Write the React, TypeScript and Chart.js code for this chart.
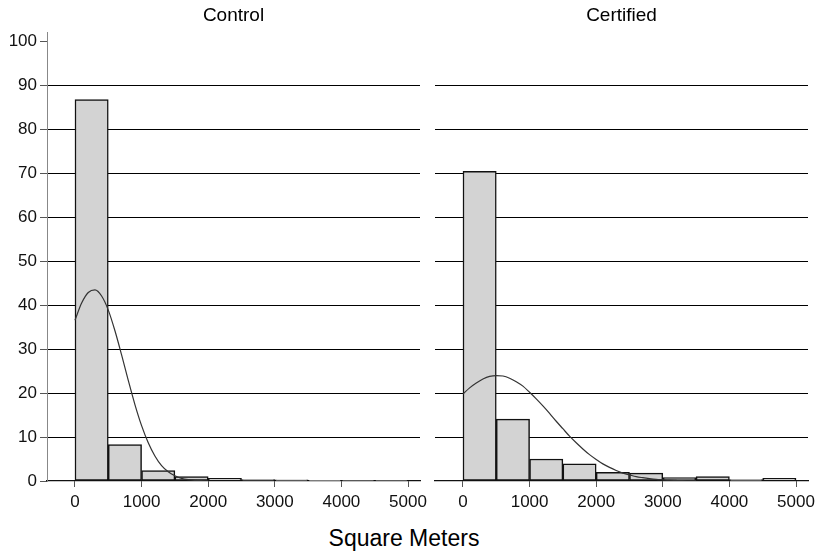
import React, { useEffect, useRef } from "react";
import { Chart, registerables } from "chart.js";

Chart.register(...registerables);

// ---- data ----
const panelTitles = ["Control", "Certified"];
const axisTitle = "Square Meters";

// histogram bins (midpoints, square meters) and percent of observations
const binMids = [250, 750, 1250, 1750, 2250, 2750, 3250, 3750, 4250, 4750];
const controlPct = [86.8, 8.3, 2.4, 1.0, 0.6, 0.35, 0.25, 0.15, 0.1, 0.1];
const certifiedPct = [70.5, 14.1, 5.0, 3.9, 2.0, 1.8, 0.8, 1.0, 0.3, 0.6];

// fitted density curves (percent scale)
const curveX = [
  0, 100, 200, 300, 400, 500, 600, 700, 800, 900, 1000, 1100, 1200, 1300, 1400,
  1500, 1600, 1700, 1800, 1900, 2000, 2100, 2200, 2300, 2400, 2500, 2600, 2700,
  2800, 2900, 3000, 3100, 3200, 3300, 3400, 3500,
];
const controlCurve = [
  36.6, 40.5, 42.9, 43.5, 42.1, 38.9, 34.2, 28.7, 22.9, 17.4, 12.6, 8.7, 5.7,
  3.5, 2.1, 1.2, 0.6, 0.3, 0.15, 0.07, 0.03,
];
const certifiedCurve = [
  19.8, 21.2, 22.3, 23.2, 23.8, 24.0, 23.9, 23.4, 22.6, 21.6, 20.2, 18.7, 17.1,
  15.4, 13.6, 11.9, 10.2, 8.7, 7.3, 6.0, 4.9, 3.9, 3.1, 2.4, 1.8, 1.4, 1.0,
  0.75, 0.54, 0.37, 0.27, 0.18, 0.12, 0.07, 0.05, 0.03,
];

const xTicks = [0, 1000, 2000, 3000, 4000, 5000];
const yTicks = [0, 10, 20, 30, 40, 50, 60, 70, 80, 90, 100];
const xRange = [-420, 5180];
const yRange = [0, 102.2];

const FONT = "'Liberation Sans', Arial, Helvetica, sans-serif";

function makeConfig(
  title: string,
  pct: number[],
  curve: number[],
  first: boolean
): any {
  return {
    type: "bar",
    data: {
      datasets: [
        {
          type: "line",
          order: 0,
          data: curve.map((y, i) => ({ x: curveX[i], y })),
          borderColor: "#333333",
          borderWidth: 1.2,
          pointRadius: 0,
          fill: false,
          cubicInterpolationMode: "monotone",
        },
        {
          type: "bar",
          order: 1,
          data: pct.map((y, i) => ({ x: binMids[i], y })),
          backgroundColor: "#d3d3d3",
          borderColor: "#111111",
          borderWidth: 1.5,
          borderSkipped: false,
          barPercentage: 1,
          categoryPercentage: 1,
        },
      ],
    },
    options: {
      responsive: true,
      maintainAspectRatio: false,
      animation: false,
      events: [],
      layout: {
        padding: first
          ? { left: 0, right: 20, top: 0, bottom: 0 }
          : { left: 10, right: 22, top: 0, bottom: 0 },
      },
      plugins: {
        legend: { display: false },
        tooltip: { enabled: false },
        title: {
          display: true,
          text: title,
          fullSize: false,
          color: "#000",
          font: { family: FONT, size: 19, weight: "normal" },
          padding: { top: 4.2, bottom: 5 },
        },
      },
      scales: {
        x: {
          type: "linear",
          min: xRange[0],
          max: xRange[1],
          offset: false,
          afterFit: (axis: any) => {
            axis.height = 39;
          },
          afterBuildTicks: (axis: any) => {
            axis.ticks = xTicks.map((v) => ({ value: v }));
          },
          grid: {
            offset: false,
            drawOnChartArea: false,
            drawTicks: true,
            tickLength: 6,
            tickColor: "#555",
          },
          border: { display: true, color: "#111", width: 1.2 },
          ticks: {
            color: "#111",
            padding: 5,
            maxRotation: 0,
            autoSkip: false,
            font: { family: FONT, size: 17 },
            callback: (v: any) => String(v),
          },
        },
        y: {
          type: "linear",
          min: yRange[0],
          max: yRange[1],
          afterFit: (axis: any) => {
            axis.width = first ? 47 : 0;
          },
          afterBuildTicks: (axis: any) => {
            axis.ticks = yTicks.map((v) => ({ value: v }));
          },
          grid: {
            color: (ctx: any) =>
              ctx.tick && ctx.tick.value > 0 && ctx.tick.value < 100
                ? "#000"
                : "rgba(0,0,0,0)",
            lineWidth: 1,
            drawTicks: first,
            tickLength: 7,
            tickColor: "#555",
          },
          border: { display: first, color: "#888", width: 1 },
          ticks: {
            display: first,
            color: "#111",
            padding: 3,
            autoSkip: false,
            font: { family: FONT, size: 17 },
            callback: (v: any) => String(v),
          },
        },
      },
    },
  };
}

function Panel(props: {
  left: number;
  width: number;
  title: string;
  pct: number[];
  curve: number[];
  first: boolean;
}) {
  const ref = useRef<HTMLCanvasElement | null>(null);
  useEffect(() => {
    if (!ref.current) return;
    const chart = new Chart(
      ref.current,
      makeConfig(props.title, props.pct, props.curve, props.first)
    );
    return () => chart.destroy();
  }, []);
  return (
    <div
      style={{
        position: "absolute",
        left: props.left,
        top: 0,
        width: props.width,
        height: 520,
      }}
    >
      <canvas ref={ref} />
    </div>
  );
}

export default function App() {
  return (
    <div
      style={{
        position: "fixed",
        left: 0,
        top: 0,
        width: 817,
        height: 554,
        background: "#fff",
        overflow: "hidden",
      }}
    >
      <Panel
        left={0}
        width={440}
        title={panelTitles[0]}
        pct={controlPct}
        curve={controlCurve}
        first={true}
      />
      <Panel
        left={425}
        width={405}
        title={panelTitles[1]}
        pct={certifiedPct}
        curve={certifiedCurve}
        first={false}
      />
      <div
        style={{
          position: "absolute",
          left: 0,
          top: 527,
          width: 808,
          textAlign: "center",
          fontFamily: FONT,
          fontSize: 23,
          lineHeight: "23px",
          color: "#000",
          whiteSpace: "nowrap",
        }}
      >
        {axisTitle}
      </div>
    </div>
  );
}
